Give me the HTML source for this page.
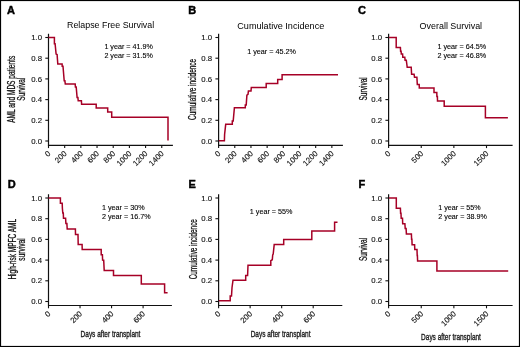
<!DOCTYPE html><html><head><meta charset="utf-8"><style>html,body{margin:0;padding:0;background:#fff;}svg{display:block;will-change:transform;}</style></head><body>
<svg width="520" height="347" viewBox="0 0 520 347" font-family='"Liberation Sans", sans-serif'>
<rect x="0" y="0" width="520" height="347" fill="#fff"/>
<rect x="0.5" y="0.5" width="519" height="346" fill="none" stroke="#000" stroke-width="1.2"/>
<g><path d="M48.5 33.7V145.3H172.9" fill="none" stroke="#111" stroke-width="1.2"/><path d="M45.3 141.00H48.5" stroke="#111" stroke-width="1.1"/><text x="42.1" y="143.60" font-size="7.8" text-anchor="end" fill="#111" stroke="#111" stroke-width="0.12">0.0</text><path d="M45.3 120.30H48.5" stroke="#111" stroke-width="1.1"/><text x="42.1" y="122.90" font-size="7.8" text-anchor="end" fill="#111" stroke="#111" stroke-width="0.12">0.2</text><path d="M45.3 99.60H48.5" stroke="#111" stroke-width="1.1"/><text x="42.1" y="102.20" font-size="7.8" text-anchor="end" fill="#111" stroke="#111" stroke-width="0.12">0.4</text><path d="M45.3 78.90H48.5" stroke="#111" stroke-width="1.1"/><text x="42.1" y="81.50" font-size="7.8" text-anchor="end" fill="#111" stroke="#111" stroke-width="0.12">0.6</text><path d="M45.3 58.20H48.5" stroke="#111" stroke-width="1.1"/><text x="42.1" y="60.80" font-size="7.8" text-anchor="end" fill="#111" stroke="#111" stroke-width="0.12">0.8</text><path d="M45.3 37.50H48.5" stroke="#111" stroke-width="1.1"/><text x="42.1" y="40.10" font-size="7.8" text-anchor="end" fill="#111" stroke="#111" stroke-width="0.12">1.0</text><path d="M48.50 145.3V148.1" stroke="#111" stroke-width="1.1"/><text x="51.10" y="154.20" font-size="7.8" text-anchor="end" fill="#111" stroke="#111" stroke-width="0.12" transform="rotate(-45 51.10 154.20)">0</text><path d="M64.68 145.3V148.1" stroke="#111" stroke-width="1.1"/><text x="67.28" y="154.20" font-size="7.8" text-anchor="end" fill="#111" stroke="#111" stroke-width="0.12" transform="rotate(-45 67.28 154.20)">200</text><path d="M80.86 145.3V148.1" stroke="#111" stroke-width="1.1"/><text x="83.46" y="154.20" font-size="7.8" text-anchor="end" fill="#111" stroke="#111" stroke-width="0.12" transform="rotate(-45 83.46 154.20)">400</text><path d="M97.04 145.3V148.1" stroke="#111" stroke-width="1.1"/><text x="99.64" y="154.20" font-size="7.8" text-anchor="end" fill="#111" stroke="#111" stroke-width="0.12" transform="rotate(-45 99.64 154.20)">600</text><path d="M113.22 145.3V148.1" stroke="#111" stroke-width="1.1"/><text x="115.82" y="154.20" font-size="7.8" text-anchor="end" fill="#111" stroke="#111" stroke-width="0.12" transform="rotate(-45 115.82 154.20)">800</text><path d="M129.40 145.3V148.1" stroke="#111" stroke-width="1.1"/><text x="132.00" y="154.20" font-size="7.8" text-anchor="end" fill="#111" stroke="#111" stroke-width="0.12" transform="rotate(-45 132.00 154.20)">1000</text><path d="M145.58 145.3V148.1" stroke="#111" stroke-width="1.1"/><text x="148.18" y="154.20" font-size="7.8" text-anchor="end" fill="#111" stroke="#111" stroke-width="0.12" transform="rotate(-45 148.18 154.20)">1200</text><path d="M161.76 145.3V148.1" stroke="#111" stroke-width="1.1"/><text x="164.36" y="154.20" font-size="7.8" text-anchor="end" fill="#111" stroke="#111" stroke-width="0.12" transform="rotate(-45 164.36 154.20)">1400</text><polyline points="48.5,37.6 54.4,37.6 54.4,43.8 55.1,43.8 56.1,54.1 57.1,54.6 57.8,64.1 62.1,64.1 62.2,66.3 63.0,66.3 64.2,80.8 64.9,80.8 65.3,84.1 75.2,84.1 75.4,87.0 76.2,87.0 77.1,97.5 77.9,97.5 78.2,100.7 81.4,100.7 81.6,104.2 96.2,104.2 96.2,108.0 107.7,108.0 107.7,112.1 111.7,112.1 111.7,117.3 168.0,117.3 168.0,140.5" fill="none" stroke="#a60026" stroke-width="1.5" stroke-linejoin="miter"/><text x="104.4" y="49.2" font-size="7" fill="#000" stroke="#000" stroke-width="0.1" textLength="48.4" lengthAdjust="spacingAndGlyphs">1 year = 41.9%</text><text x="104.4" y="57.9" font-size="7" fill="#000" stroke="#000" stroke-width="0.1" textLength="48.4" lengthAdjust="spacingAndGlyphs">2 year = 31.5%</text><text x="0" y="0" font-size="10" fill="#111" stroke="#111" stroke-width="0.28" text-anchor="middle" textLength="67.0" lengthAdjust="spacingAndGlyphs" transform="translate(15.4 89.3) rotate(-90)">AML and MDS patients</text><text x="0" y="0" font-size="10" fill="#111" stroke="#111" stroke-width="0.28" text-anchor="middle" textLength="23.0" lengthAdjust="spacingAndGlyphs" transform="translate(25.0 89.2) rotate(-90)">Survival</text><text x="7.1" y="13.8" font-size="11" font-weight="bold" fill="#000" stroke="#000" stroke-width="0.45">A</text><text x="67.0" y="28.3" font-size="9" fill="#000" textLength="87.2" lengthAdjust="spacingAndGlyphs">Relapse Free Survival</text></g>
<g><path d="M218.6 33.7V145.3H342.9" fill="none" stroke="#111" stroke-width="1.2"/><path d="M215.4 141.00H218.6" stroke="#111" stroke-width="1.1"/><text x="212.2" y="143.60" font-size="7.8" text-anchor="end" fill="#111" stroke="#111" stroke-width="0.12">0.0</text><path d="M215.4 120.30H218.6" stroke="#111" stroke-width="1.1"/><text x="212.2" y="122.90" font-size="7.8" text-anchor="end" fill="#111" stroke="#111" stroke-width="0.12">0.2</text><path d="M215.4 99.60H218.6" stroke="#111" stroke-width="1.1"/><text x="212.2" y="102.20" font-size="7.8" text-anchor="end" fill="#111" stroke="#111" stroke-width="0.12">0.4</text><path d="M215.4 78.90H218.6" stroke="#111" stroke-width="1.1"/><text x="212.2" y="81.50" font-size="7.8" text-anchor="end" fill="#111" stroke="#111" stroke-width="0.12">0.6</text><path d="M215.4 58.20H218.6" stroke="#111" stroke-width="1.1"/><text x="212.2" y="60.80" font-size="7.8" text-anchor="end" fill="#111" stroke="#111" stroke-width="0.12">0.8</text><path d="M215.4 37.50H218.6" stroke="#111" stroke-width="1.1"/><text x="212.2" y="40.10" font-size="7.8" text-anchor="end" fill="#111" stroke="#111" stroke-width="0.12">1.0</text><path d="M218.60 145.3V148.1" stroke="#111" stroke-width="1.1"/><text x="221.20" y="154.20" font-size="7.8" text-anchor="end" fill="#111" stroke="#111" stroke-width="0.12" transform="rotate(-45 221.20 154.20)">0</text><path d="M234.78 145.3V148.1" stroke="#111" stroke-width="1.1"/><text x="237.38" y="154.20" font-size="7.8" text-anchor="end" fill="#111" stroke="#111" stroke-width="0.12" transform="rotate(-45 237.38 154.20)">200</text><path d="M250.96 145.3V148.1" stroke="#111" stroke-width="1.1"/><text x="253.56" y="154.20" font-size="7.8" text-anchor="end" fill="#111" stroke="#111" stroke-width="0.12" transform="rotate(-45 253.56 154.20)">400</text><path d="M267.14 145.3V148.1" stroke="#111" stroke-width="1.1"/><text x="269.74" y="154.20" font-size="7.8" text-anchor="end" fill="#111" stroke="#111" stroke-width="0.12" transform="rotate(-45 269.74 154.20)">600</text><path d="M283.32 145.3V148.1" stroke="#111" stroke-width="1.1"/><text x="285.92" y="154.20" font-size="7.8" text-anchor="end" fill="#111" stroke="#111" stroke-width="0.12" transform="rotate(-45 285.92 154.20)">800</text><path d="M299.50 145.3V148.1" stroke="#111" stroke-width="1.1"/><text x="302.10" y="154.20" font-size="7.8" text-anchor="end" fill="#111" stroke="#111" stroke-width="0.12" transform="rotate(-45 302.10 154.20)">1000</text><path d="M315.68 145.3V148.1" stroke="#111" stroke-width="1.1"/><text x="318.28" y="154.20" font-size="7.8" text-anchor="end" fill="#111" stroke="#111" stroke-width="0.12" transform="rotate(-45 318.28 154.20)">1200</text><path d="M331.86 145.3V148.1" stroke="#111" stroke-width="1.1"/><text x="334.46" y="154.20" font-size="7.8" text-anchor="end" fill="#111" stroke="#111" stroke-width="0.12" transform="rotate(-45 334.46 154.20)">1400</text><polyline points="218.9,140.8 224.4,140.8 224.6,134.5 225.7,124.3 232.3,124.3 232.3,121.1 233.2,121.1 234.4,107.7 245.3,107.7 245.3,105.0 246.2,105.0 246.9,95.2 248.0,94.3 248.4,91.1 251.0,91.1 251.3,87.5 266.2,87.5 266.2,83.4 277.7,83.4 277.7,79.6 282.1,79.6 282.1,74.7 338.0,74.7" fill="none" stroke="#a60026" stroke-width="1.5" stroke-linejoin="miter"/><text x="247.2" y="53.8" font-size="7" fill="#000" stroke="#000" stroke-width="0.1" textLength="48.8" lengthAdjust="spacingAndGlyphs">1 year = 45.2%</text><text x="0" y="0" font-size="10" fill="#111" stroke="#111" stroke-width="0.28" text-anchor="middle" textLength="61.0" lengthAdjust="spacingAndGlyphs" transform="translate(196.2 89.4) rotate(-90)">Cumulative incidence</text><text x="188.3" y="13.8" font-size="11" font-weight="bold" fill="#000" stroke="#000" stroke-width="0.45">B</text><text x="237.3" y="28.7" font-size="9" fill="#000" textLength="87.0" lengthAdjust="spacingAndGlyphs">Cumulative Incidence</text></g>
<g><path d="M388.6 33.7V145.3H512.6" fill="none" stroke="#111" stroke-width="1.2"/><path d="M385.4 141.00H388.6" stroke="#111" stroke-width="1.1"/><text x="382.2" y="143.60" font-size="7.8" text-anchor="end" fill="#111" stroke="#111" stroke-width="0.12">0.0</text><path d="M385.4 120.30H388.6" stroke="#111" stroke-width="1.1"/><text x="382.2" y="122.90" font-size="7.8" text-anchor="end" fill="#111" stroke="#111" stroke-width="0.12">0.2</text><path d="M385.4 99.60H388.6" stroke="#111" stroke-width="1.1"/><text x="382.2" y="102.20" font-size="7.8" text-anchor="end" fill="#111" stroke="#111" stroke-width="0.12">0.4</text><path d="M385.4 78.90H388.6" stroke="#111" stroke-width="1.1"/><text x="382.2" y="81.50" font-size="7.8" text-anchor="end" fill="#111" stroke="#111" stroke-width="0.12">0.6</text><path d="M385.4 58.20H388.6" stroke="#111" stroke-width="1.1"/><text x="382.2" y="60.80" font-size="7.8" text-anchor="end" fill="#111" stroke="#111" stroke-width="0.12">0.8</text><path d="M385.4 37.50H388.6" stroke="#111" stroke-width="1.1"/><text x="382.2" y="40.10" font-size="7.8" text-anchor="end" fill="#111" stroke="#111" stroke-width="0.12">1.0</text><path d="M388.60 145.3V148.1" stroke="#111" stroke-width="1.1"/><text x="391.20" y="154.20" font-size="7.8" text-anchor="end" fill="#111" stroke="#111" stroke-width="0.12" transform="rotate(-45 391.20 154.20)">0</text><path d="M421.24 145.3V148.1" stroke="#111" stroke-width="1.1"/><text x="423.84" y="154.20" font-size="7.8" text-anchor="end" fill="#111" stroke="#111" stroke-width="0.12" transform="rotate(-45 423.84 154.20)">500</text><path d="M453.87 145.3V148.1" stroke="#111" stroke-width="1.1"/><text x="456.47" y="154.20" font-size="7.8" text-anchor="end" fill="#111" stroke="#111" stroke-width="0.12" transform="rotate(-45 456.47 154.20)">1000</text><path d="M486.50 145.3V148.1" stroke="#111" stroke-width="1.1"/><text x="489.11" y="154.20" font-size="7.8" text-anchor="end" fill="#111" stroke="#111" stroke-width="0.12" transform="rotate(-45 489.11 154.20)">1500</text><polyline points="388.9,37.6 396.2,37.6 396.2,47.4 400.4,47.4 400.6,51.3 401.1,51.3 401.3,54.0 402.6,54.0 402.8,57.3 404.8,57.3 405.1,60.3 406.3,60.3 406.8,64.0 407.2,67.3 411.2,67.3 411.6,74.3 414.1,74.3 414.5,77.3 416.9,77.3 417.3,84.6 419.2,84.6 419.3,88.1 434.0,88.1 434.0,92.4 436.8,92.4 436.9,96.6 437.4,96.6 437.5,101.0 444.2,101.0 444.2,106.2 485.4,106.2 485.4,117.7 507.9,117.7" fill="none" stroke="#a60026" stroke-width="1.5" stroke-linejoin="miter"/><text x="437.4" y="49.2" font-size="7" fill="#000" stroke="#000" stroke-width="0.1" textLength="48.8" lengthAdjust="spacingAndGlyphs">1 year = 64.5%</text><text x="437.4" y="58.2" font-size="7" fill="#000" stroke="#000" stroke-width="0.1" textLength="48.8" lengthAdjust="spacingAndGlyphs">2 year = 46.8%</text><text x="0" y="0" font-size="10" fill="#111" stroke="#111" stroke-width="0.28" text-anchor="middle" textLength="23.3" lengthAdjust="spacingAndGlyphs" transform="translate(366.9 88.9) rotate(-90)">Survival</text><text x="358.1" y="13.8" font-size="11" font-weight="bold" fill="#000" stroke="#000" stroke-width="0.45">C</text><text x="419.6" y="28.7" font-size="9" fill="#000" textLength="62.5" lengthAdjust="spacingAndGlyphs">Overall Survival</text></g>
<g><path d="M48.5 194.2V305.5H171.9" fill="none" stroke="#111" stroke-width="1.2"/><path d="M45.3 301.50H48.5" stroke="#111" stroke-width="1.1"/><text x="42.1" y="304.10" font-size="7.8" text-anchor="end" fill="#111" stroke="#111" stroke-width="0.12">0.0</text><path d="M45.3 280.80H48.5" stroke="#111" stroke-width="1.1"/><text x="42.1" y="283.40" font-size="7.8" text-anchor="end" fill="#111" stroke="#111" stroke-width="0.12">0.2</text><path d="M45.3 260.10H48.5" stroke="#111" stroke-width="1.1"/><text x="42.1" y="262.70" font-size="7.8" text-anchor="end" fill="#111" stroke="#111" stroke-width="0.12">0.4</text><path d="M45.3 239.40H48.5" stroke="#111" stroke-width="1.1"/><text x="42.1" y="242.00" font-size="7.8" text-anchor="end" fill="#111" stroke="#111" stroke-width="0.12">0.6</text><path d="M45.3 218.70H48.5" stroke="#111" stroke-width="1.1"/><text x="42.1" y="221.30" font-size="7.8" text-anchor="end" fill="#111" stroke="#111" stroke-width="0.12">0.8</text><path d="M45.3 198.00H48.5" stroke="#111" stroke-width="1.1"/><text x="42.1" y="200.60" font-size="7.8" text-anchor="end" fill="#111" stroke="#111" stroke-width="0.12">1.0</text><path d="M48.50 305.5V308.3" stroke="#111" stroke-width="1.1"/><text x="51.10" y="314.40" font-size="7.8" text-anchor="end" fill="#111" stroke="#111" stroke-width="0.12" transform="rotate(-45 51.10 314.40)">0</text><path d="M80.03 305.5V308.3" stroke="#111" stroke-width="1.1"/><text x="82.63" y="314.40" font-size="7.8" text-anchor="end" fill="#111" stroke="#111" stroke-width="0.12" transform="rotate(-45 82.63 314.40)">200</text><path d="M111.57 305.5V308.3" stroke="#111" stroke-width="1.1"/><text x="114.17" y="314.40" font-size="7.8" text-anchor="end" fill="#111" stroke="#111" stroke-width="0.12" transform="rotate(-45 114.17 314.40)">400</text><path d="M143.10 305.5V308.3" stroke="#111" stroke-width="1.1"/><text x="145.70" y="314.40" font-size="7.8" text-anchor="end" fill="#111" stroke="#111" stroke-width="0.12" transform="rotate(-45 145.70 314.40)">600</text><polyline points="48.5,198.1 60.4,198.1 60.4,203.3 62.2,203.3 62.4,208.5 62.8,213.1 63.3,213.1 63.5,218.3 65.6,218.3 65.9,223.6 66.9,223.6 67.2,229.1 75.4,229.1 75.5,234.4 78.0,234.4 78.2,244.5 82.1,244.5 82.2,249.6 101.2,249.6 101.2,254.8 102.4,254.8 102.6,260.0 103.7,260.2 104.2,270.4 113.5,270.4 113.5,275.5 141.3,275.5 141.3,284.1 164.6,284.1 164.6,292.7 167.6,292.7" fill="none" stroke="#a60026" stroke-width="1.5" stroke-linejoin="miter"/><text x="101.9" y="209.8" font-size="7" fill="#000" stroke="#000" stroke-width="0.1" textLength="42.9" lengthAdjust="spacingAndGlyphs">1 year = 30%</text><text x="101.9" y="218.5" font-size="7" fill="#000" stroke="#000" stroke-width="0.1" textLength="48.7" lengthAdjust="spacingAndGlyphs">2 year = 16.7%</text><text x="0" y="0" font-size="10" fill="#111" stroke="#111" stroke-width="0.28" text-anchor="middle" textLength="60.6" lengthAdjust="spacingAndGlyphs" transform="translate(15.6 249.3) rotate(-90)">High-risk MPFC AML</text><text x="0" y="0" font-size="10" fill="#111" stroke="#111" stroke-width="0.28" text-anchor="middle" textLength="22.3" lengthAdjust="spacingAndGlyphs" transform="translate(25.0 249.5) rotate(-90)">survival</text><text x="7.8" y="187.6" font-size="11" font-weight="bold" fill="#000" stroke="#000" stroke-width="0.45">D</text><text x="110.5" y="336.8" font-size="9.4" fill="#1a1a1a" stroke="#1a1a1a" stroke-width="0.35" text-anchor="middle" textLength="59.8" lengthAdjust="spacingAndGlyphs">Days after transplant</text></g>
<g><path d="M218.6 194.2V305.5H342.3" fill="none" stroke="#111" stroke-width="1.2"/><path d="M215.4 301.50H218.6" stroke="#111" stroke-width="1.1"/><text x="212.2" y="304.10" font-size="7.8" text-anchor="end" fill="#111" stroke="#111" stroke-width="0.12">0.0</text><path d="M215.4 280.80H218.6" stroke="#111" stroke-width="1.1"/><text x="212.2" y="283.40" font-size="7.8" text-anchor="end" fill="#111" stroke="#111" stroke-width="0.12">0.2</text><path d="M215.4 260.10H218.6" stroke="#111" stroke-width="1.1"/><text x="212.2" y="262.70" font-size="7.8" text-anchor="end" fill="#111" stroke="#111" stroke-width="0.12">0.4</text><path d="M215.4 239.40H218.6" stroke="#111" stroke-width="1.1"/><text x="212.2" y="242.00" font-size="7.8" text-anchor="end" fill="#111" stroke="#111" stroke-width="0.12">0.6</text><path d="M215.4 218.70H218.6" stroke="#111" stroke-width="1.1"/><text x="212.2" y="221.30" font-size="7.8" text-anchor="end" fill="#111" stroke="#111" stroke-width="0.12">0.8</text><path d="M215.4 198.00H218.6" stroke="#111" stroke-width="1.1"/><text x="212.2" y="200.60" font-size="7.8" text-anchor="end" fill="#111" stroke="#111" stroke-width="0.12">1.0</text><path d="M218.60 305.5V308.3" stroke="#111" stroke-width="1.1"/><text x="221.20" y="314.40" font-size="7.8" text-anchor="end" fill="#111" stroke="#111" stroke-width="0.12" transform="rotate(-45 221.20 314.40)">0</text><path d="M250.13 305.5V308.3" stroke="#111" stroke-width="1.1"/><text x="252.73" y="314.40" font-size="7.8" text-anchor="end" fill="#111" stroke="#111" stroke-width="0.12" transform="rotate(-45 252.73 314.40)">200</text><path d="M281.67 305.5V308.3" stroke="#111" stroke-width="1.1"/><text x="284.27" y="314.40" font-size="7.8" text-anchor="end" fill="#111" stroke="#111" stroke-width="0.12" transform="rotate(-45 284.27 314.40)">400</text><path d="M313.20 305.5V308.3" stroke="#111" stroke-width="1.1"/><text x="315.80" y="314.40" font-size="7.8" text-anchor="end" fill="#111" stroke="#111" stroke-width="0.12" transform="rotate(-45 315.80 314.40)">600</text><polyline points="218.9,300.8 230.2,300.8 230.2,296.1 231.5,296.1 232.0,287.7 233.0,280.2 245.7,280.2 245.7,275.6 247.6,275.6 248.0,265.3 270.8,265.3 270.8,260.6 272.3,259.7 272.7,255.0 273.2,254.0 274.2,244.6 283.7,244.6 283.7,239.6 311.8,239.6 311.8,230.9 334.6,230.9 334.6,222.3 337.5,222.3" fill="none" stroke="#a60026" stroke-width="1.5" stroke-linejoin="miter"/><text x="249.8" y="214.4" font-size="7" fill="#000" stroke="#000" stroke-width="0.1" textLength="42.7" lengthAdjust="spacingAndGlyphs">1 year = 55%</text><text x="0" y="0" font-size="10" fill="#111" stroke="#111" stroke-width="0.28" text-anchor="middle" textLength="60.0" lengthAdjust="spacingAndGlyphs" transform="translate(196.6 249.2) rotate(-90)">Cumulative incidence</text><text x="188.6" y="187.9" font-size="11" font-weight="bold" fill="#000" stroke="#000" stroke-width="0.45">E</text><text x="280.6" y="336.9" font-size="9.4" fill="#1a1a1a" stroke="#1a1a1a" stroke-width="0.35" text-anchor="middle" textLength="59.8" lengthAdjust="spacingAndGlyphs">Days after transplant</text></g>
<g><path d="M388.6 194.2V305.5H512.6" fill="none" stroke="#111" stroke-width="1.2"/><path d="M385.4 301.50H388.6" stroke="#111" stroke-width="1.1"/><text x="382.2" y="304.10" font-size="7.8" text-anchor="end" fill="#111" stroke="#111" stroke-width="0.12">0.0</text><path d="M385.4 280.80H388.6" stroke="#111" stroke-width="1.1"/><text x="382.2" y="283.40" font-size="7.8" text-anchor="end" fill="#111" stroke="#111" stroke-width="0.12">0.2</text><path d="M385.4 260.10H388.6" stroke="#111" stroke-width="1.1"/><text x="382.2" y="262.70" font-size="7.8" text-anchor="end" fill="#111" stroke="#111" stroke-width="0.12">0.4</text><path d="M385.4 239.40H388.6" stroke="#111" stroke-width="1.1"/><text x="382.2" y="242.00" font-size="7.8" text-anchor="end" fill="#111" stroke="#111" stroke-width="0.12">0.6</text><path d="M385.4 218.70H388.6" stroke="#111" stroke-width="1.1"/><text x="382.2" y="221.30" font-size="7.8" text-anchor="end" fill="#111" stroke="#111" stroke-width="0.12">0.8</text><path d="M385.4 198.00H388.6" stroke="#111" stroke-width="1.1"/><text x="382.2" y="200.60" font-size="7.8" text-anchor="end" fill="#111" stroke="#111" stroke-width="0.12">1.0</text><path d="M388.60 305.5V308.3" stroke="#111" stroke-width="1.1"/><text x="391.20" y="314.40" font-size="7.8" text-anchor="end" fill="#111" stroke="#111" stroke-width="0.12" transform="rotate(-45 391.20 314.40)">0</text><path d="M421.24 305.5V308.3" stroke="#111" stroke-width="1.1"/><text x="423.84" y="314.40" font-size="7.8" text-anchor="end" fill="#111" stroke="#111" stroke-width="0.12" transform="rotate(-45 423.84 314.40)">500</text><path d="M453.87 305.5V308.3" stroke="#111" stroke-width="1.1"/><text x="456.47" y="314.40" font-size="7.8" text-anchor="end" fill="#111" stroke="#111" stroke-width="0.12" transform="rotate(-45 456.47 314.40)">1000</text><path d="M486.50 305.5V308.3" stroke="#111" stroke-width="1.1"/><text x="489.11" y="314.40" font-size="7.8" text-anchor="end" fill="#111" stroke="#111" stroke-width="0.12" transform="rotate(-45 489.11 314.40)">1500</text><polyline points="388.9,198.1 396.3,198.1 396.3,208.2 400.4,208.2 400.6,213.2 401.0,213.2 401.2,218.3 402.5,218.3 402.7,223.8 404.9,223.8 405.2,228.6 406.1,228.6 406.4,233.9 411.4,233.9 411.6,239.3 411.9,239.3 412.1,244.7 414.6,244.7 414.8,249.6 417.0,249.6 417.2,255.5 417.4,255.5 417.6,261.0 436.9,261.0 436.9,271.1 508.2,271.1" fill="none" stroke="#a60026" stroke-width="1.5" stroke-linejoin="miter"/><text x="438.3" y="209.5" font-size="7" fill="#000" stroke="#000" stroke-width="0.1" textLength="42.4" lengthAdjust="spacingAndGlyphs">1 year = 55%</text><text x="438.3" y="218.5" font-size="7" fill="#000" stroke="#000" stroke-width="0.1" textLength="48.5" lengthAdjust="spacingAndGlyphs">2 year = 38.9%</text><text x="0" y="0" font-size="10" fill="#111" stroke="#111" stroke-width="0.28" text-anchor="middle" textLength="23.2" lengthAdjust="spacingAndGlyphs" transform="translate(366.9 249.4) rotate(-90)">Survival</text><text x="358.6" y="187.9" font-size="11" font-weight="bold" fill="#000" stroke="#000" stroke-width="0.45">F</text><text x="451.0" y="340.3" font-size="9.4" fill="#1a1a1a" stroke="#1a1a1a" stroke-width="0.35" text-anchor="middle" textLength="59.8" lengthAdjust="spacingAndGlyphs">Days after transplant</text></g>
</svg></body></html>
